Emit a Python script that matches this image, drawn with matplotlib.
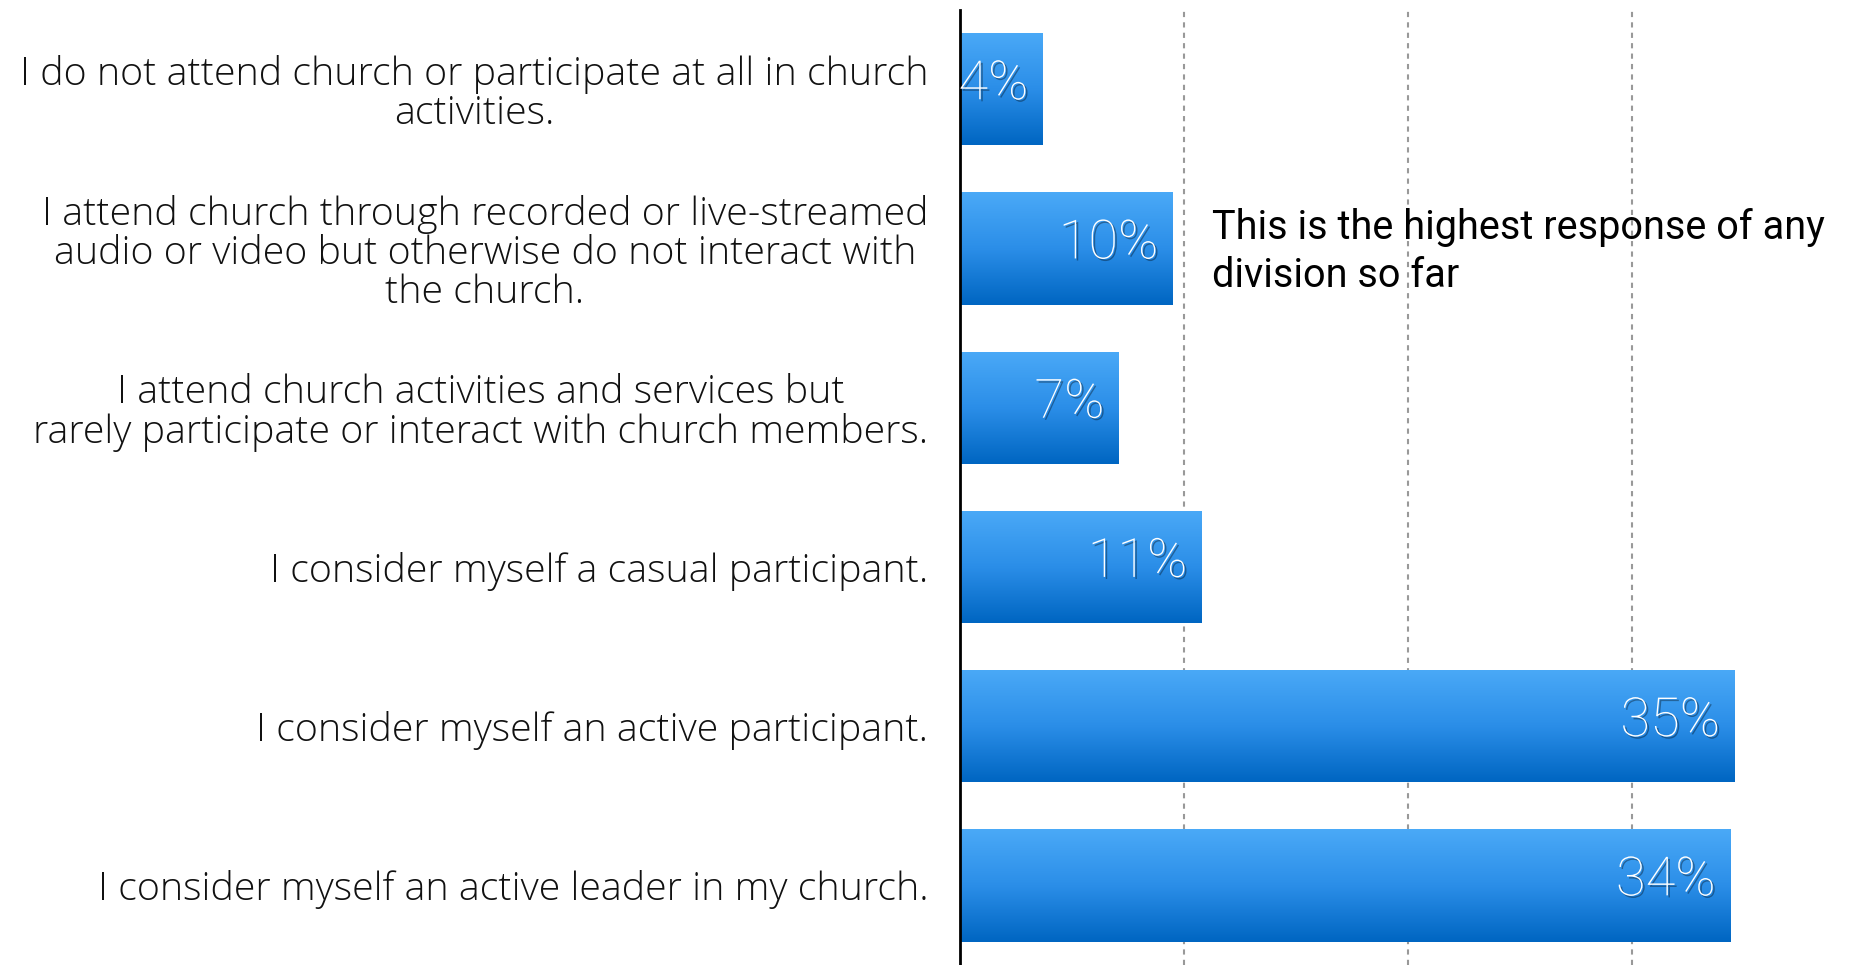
import numpy as np
import matplotlib
matplotlib.use("Agg")
import matplotlib.pyplot as plt
import matplotlib.patheffects as pe
from matplotlib.colors import LinearSegmentedColormap

# data
categories = [
    "I do not attend church or participate at all in church\nactivities.",
    "I attend church through recorded or live-streamed\naudio or video but otherwise do not interact with\nthe church.",
    "I attend church activities and services but\nrarely participate or interact with church members.",
    "I consider myself a casual participant.",
    "I consider myself an active participant.",
    "I consider myself an active leader in my church.",
]
values = [3.7, 9.5, 7.1, 10.8, 34.6, 34.4]
labels = ["4%", "10%", "7%", "11%", "35%", "34%"]
note = "This is the highest response of any\ndivision so far"

plt.rcParams['font.family'] = ['Open Sans', 'DejaVu Sans']

fig = plt.figure(figsize=(18.51, 9.65), dpi=100)
ax = fig.add_axes([0.5187, 0.0, 0.4813, 0.990])

y = np.arange(len(categories))
bars = ax.barh(y, values, height=0.705, color='#2f8fe6', zorder=2)

grad = LinearSegmentedColormap.from_list("g", ["#4aa9f7", "#2b8ee8", "#0066c2"])
img = np.linspace(0, 1, 100).reshape(-1, 1)
for b in bars:
    x0, y0 = b.get_x(), b.get_y()
    w, h = b.get_width(), b.get_height()
    im = ax.imshow(img, cmap=grad, aspect='auto', zorder=3,
                   extent=(x0, x0 + w, y0 + h, y0), origin='upper')
    im.set_clip_path(b)

ax.set_xlim(0, 39.8)
ax.set_ylim(len(categories) - 0.5, -0.5)
ax.set_xticks([10, 20, 30])
ax.xaxis.grid(True, linestyle=(0, (2.5, 2.5)), color='#999999', linewidth=1.5, zorder=0)
ax.set_axisbelow(True)
ax.tick_params(axis='x', length=0, labelbottom=False)
ax.tick_params(axis='y', length=0, pad=23)
ax.set_yticks(y)
ax.set_yticklabels(categories, fontsize=28.4, fontweight='light', color='#111111')
for t in ax.get_yticklabels():
    t.set_multialignment('center')
    t.set_linespacing(1.02)

for s in ['top', 'right', 'bottom']:
    ax.spines[s].set_visible(False)
ax.spines['left'].set_linewidth(2)
ax.spines['left'].set_color('black')
ax.spines['left'].set_zorder(5)

shadow = [pe.SimplePatchShadow(offset=(1.5, -1.5), shadow_rgbFace='black', alpha=0.35), pe.Normal()]
for yi, v, lab in zip(y, values, labels):
    ax.text(v - 0.65, yi - 0.03, lab, ha='right', va='center', color='white',
            fontsize=39, fontweight='light', zorder=6, path_effects=shadow,
            family=['Roboto', 'DejaVu Sans'])

ax.text(11.25, 1.02, note, ha='left', va='center', fontsize=28.5, color='black',
        fontweight='normal', family=['Roboto', 'DejaVu Sans'], linespacing=1.3, zorder=6)

fig.savefig("out.png", dpi=100)
